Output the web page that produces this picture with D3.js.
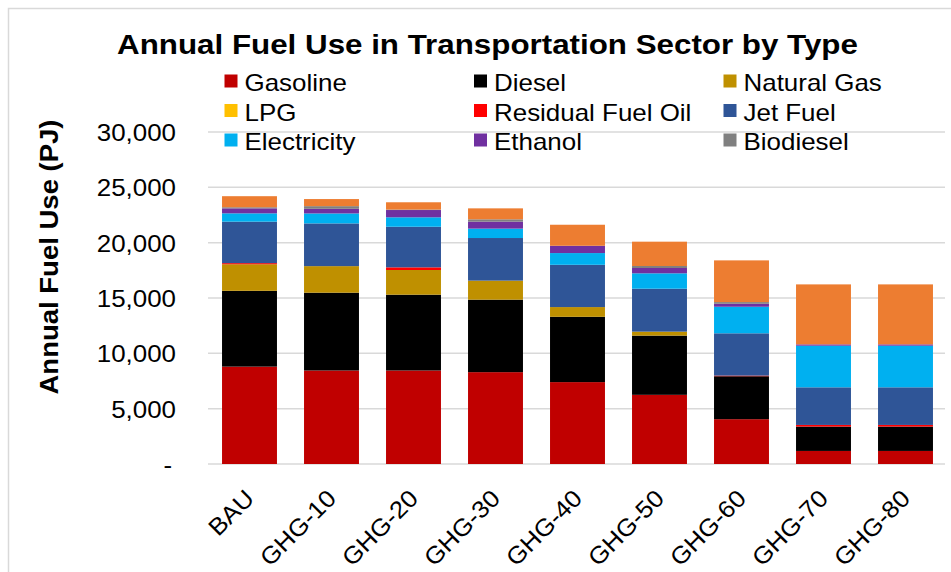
<!DOCTYPE html>
<html>
<head>
<meta charset="utf-8">
<script src="https://cdn.jsdelivr.net/npm/d3@7"></script>
<style>
  body { margin: 0; background: #fff; }
  svg { font-family: "Liberation Sans", Arial, sans-serif; }
</style>
</head>
<body>
<div id="chart"></div>
<script>
var width = 951;
var height = 572;

var scenarios = ["BAU", "GHG-10", "GHG-20", "GHG-30", "GHG-40", "GHG-50", "GHG-60", "GHG-70", "GHG-80"];
var fuels = ["Gasoline", "Diesel", "Natural Gas", "LPG", "Residual Fuel Oil", "Jet Fuel", "Electricity", "Ethanol", "Biodiesel", "Other"];
var colors = ["#c00000", "#000000", "#bf9000", "#ffc000", "#ff0000", "#2f5597", "#00b0f0", "#7030a0", "#808080", "#ed7d31"];
var legendFuels = ["Gasoline", "Diesel", "Natural Gas", "LPG", "Residual Fuel Oil", "Jet Fuel", "Electricity", "Ethanol", "Biodiesel"];
var yTicks = [0, 5000, 10000, 15000, 20000, 25000, 30000];

// PJ per scenario
var gasoline    = [8800, 8450, 8450, 8300, 7400, 6250, 4050, 1180, 1180];
var diesel      = [6850, 7030, 6850, 6550, 5900, 5350, 3880, 2200, 2200];
var naturalGas  = [2400, 2400, 2230, 1720, 880, 360, 0, 0, 0];
var lpg         = [0, 0, 0, 0, 0, 0, 0, 0, 0];
var residual    = [100, 0, 240, 0, 0, 0, 60, 150, 150];
var jetFuel     = [3750, 3860, 3670, 3850, 3820, 3880, 3820, 3400, 3400];
var electricity = [750, 900, 850, 850, 1060, 1390, 2400, 3760, 3760];
var ethanol     = [450, 420, 660, 630, 660, 480, 270, 120, 120];
var biodiesel   = [100, 240, 40, 210, 0, 180, 150, 0, 0];
var other       = [1000, 640, 660, 990, 1900, 2200, 3770, 5420, 5420];

var series = [gasoline, diesel, naturalGas, lpg, residual, jetFuel, electricity, ethanol, biodiesel, other];

var rows = scenarios.map(function (s, i) {
  var r = { scenario: s };
  fuels.forEach(function (f, k) { r[f] = series[k][i]; });
  return r;
});

var stacked = d3.stack().keys(fuels)(rows);

// the original text is drawn a bit wider than plain Arial
function stretch(sel, k) {
  sel.each(function () {
    var w = this.getComputedTextLength();
    d3.select(this).attr("textLength", w * k).attr("lengthAdjust", "spacingAndGlyphs");
  });
}

var svg = d3.select("#chart").append("svg")
  .attr("width", width)
  .attr("height", height);

// outer frame
svg.append("rect")
  .attr("x", 8.5).attr("y", 8.5)
  .attr("width", width + 10).attr("height", height + 10)
  .attr("fill", "none")
  .attr("stroke", "#d9d9d9")
  .attr("stroke-width", 1.5);

var x = d3.scaleBand().domain(scenarios).range([208.5, 946.5]).paddingInner(0.33).paddingOuter(0.165);
var y = d3.scaleLinear().domain([0, 30000]).range([464, 132]);

// gridlines
svg.append("g")
  .selectAll("line")
  .data(yTicks)
  .enter()
  .append("line")
  .attr("x1", 208)
  .attr("x2", 945)
  .attr("y1", function (d) { return y(d); })
  .attr("y2", function (d) { return y(d); })
  .attr("stroke", "#d9d9d9")
  .attr("stroke-width", 1.5);

// y axis labels
var yaxis = d3.axisLeft(y)
  .tickValues(yTicks)
  .tickSize(0)
  .tickPadding(0)
  .tickFormat(function (d) { return d === 0 ? "-" : d3.format(",")(d); });

var gy = svg.append("g")
  .attr("transform", "translate(176,0)")
  .call(yaxis);
gy.select(".domain").remove();
gy.selectAll("text")
  .attr("font-size", 24)
  .attr("fill", "#000")
  .attr("font-family", "Liberation Sans, Arial, sans-serif")
  .attr("dy", "0.35em")
  .call(stretch, 1.08);
gy.selectAll(".tick").filter(function (d) { return d === 0; }).select("text").attr("dx", "-4px");

// bars
svg.append("g")
  .selectAll("g")
  .data(stacked)
  .enter()
  .append("g")
  .attr("fill", function (d, i) { return colors[i]; })
  .selectAll("rect")
  .data(function (d) { return d; })
  .enter()
  .append("rect")
  .attr("x", function (d) { return x(d.data.scenario); })
  .attr("width", x.bandwidth())
  .attr("y", function (d) { return y(d[1]); })
  .attr("height", function (d) { return y(d[0]) - y(d[1]); });

// x axis labels
var xaxis = d3.axisBottom(x).tickSize(0).tickPadding(0);
var gx = svg.append("g")
  .attr("transform", "translate(0,464)")
  .call(xaxis);
gx.select(".domain").remove();
gx.selectAll("text")
  .attr("font-size", 24)
  .attr("fill", "#000")
  .attr("font-family", "Liberation Sans, Arial, sans-serif")
  .attr("text-anchor", "end")
  .attr("dy", null)
  .attr("y", 0)
  .attr("transform", "translate(6,36) rotate(-45)")
  .call(stretch, 1.07);

// title
svg.append("text")
  .attr("x", 487.5)
  .attr("y", 54)
  .attr("text-anchor", "middle")
  .attr("font-size", 27)
  .attr("font-weight", "bold")
  .text("Annual Fuel Use in Transportation Sector by Type")
  .call(stretch, 1.16);

// y title
svg.append("text")
  .attr("transform", "translate(58,257) rotate(-90)")
  .attr("text-anchor", "middle")
  .attr("font-size", 25)
  .attr("font-weight", "bold")
  .text("Annual Fuel Use (PJ)")
  .call(stretch, 1.1);

// legend
var legend = svg.append("g")
  .selectAll("g")
  .data(legendFuels)
  .enter()
  .append("g")
  .attr("transform", function (d, i) {
    return "translate(" + (224.5 + (i % 3) * 249.5) + "," + (91 + Math.floor(i / 3) * 29.5) + ")";
  });
legend.append("rect")
  .attr("x", 0).attr("y", -16.5)
  .attr("width", 13).attr("height", 13)
  .attr("fill", function (d) { return colors[fuels.indexOf(d)]; });
legend.append("text")
  .attr("x", 20)
  .attr("font-size", 24)
  .text(function (d) { return d; })
  .call(stretch, 1.08);
</script>
</body>
</html>
